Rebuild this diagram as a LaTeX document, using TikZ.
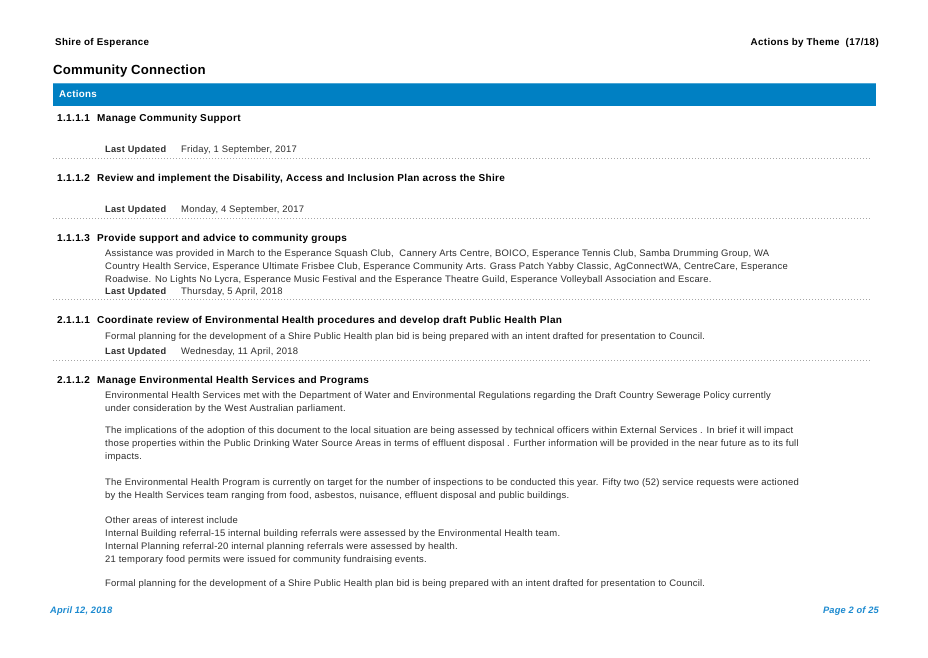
\documentclass[tikz,border=0pt]{standalone}
\usepackage{fontspec}
\setmainfont{Liberation Sans}
\definecolor{barblue}{HTML}{0080C3}
\definecolor{footblue}{HTML}{1C8AD0}
\definecolor{bodygray}{HTML}{2E2E2E}
\begin{document}
\begin{tikzpicture}[x=1pt,y=-1pt,
  hdr/.style={anchor=base west,inner sep=0pt,font=\fontsize{9.8}{11}\selectfont\bfseries\addfontfeature{LetterSpace=3.5},text=black},
  ttl/.style={anchor=base west,inner sep=0pt,font=\fontsize{13.2}{15}\selectfont\bfseries\addfontfeature{LetterSpace=1.5},text=black},
  head/.style={anchor=base west,inner sep=0pt,font=\fontsize{10}{11}\selectfont\bfseries\addfontfeature{LetterSpace=3.5},text=black},
  body/.style={anchor=base west,inner sep=0pt,font=\fontsize{9.45}{11}\selectfont\addfontfeature{LetterSpace=2.5},text=bodygray},
  lu/.style={anchor=base west,inner sep=0pt,font=\fontsize{9.2}{11}\selectfont\bfseries\addfontfeature{LetterSpace=3},text=bodygray},
  foot/.style={inner sep=0pt,font=\fontsize{9.3}{11}\selectfont\bfseries\itshape\addfontfeature{LetterSpace=2},text=footblue},
  sep/.style={draw=gray!70,line width=0.6pt,dash pattern=on 0.7pt off 2.3pt}]
\useasboundingbox[fill=white] (0,0) rectangle (928,657);
% header
\node[hdr] (h1) at (55,45.5) {Shire of Esperance};
\node[hdr,anchor=base east] (h2) at (879,45.5) {Actions by Theme\ \ (17/18)};
\node[ttl] (t1) at (53,74.5) {Community Connection};
% bar
\fill[barblue] (53,83) rectangle (876,106);
\draw[barblue!70!white,line width=0.8pt] (53,83.4) -- (876,83.4);
\node[anchor=base west,inner sep=0pt,font=\fontsize{9.8}{11}\selectfont\bfseries\addfontfeature{LetterSpace=3},text=white] (act) at (59,97.5) {Actions};
% 1.1.1.1
\node[head] (n1) at (57,121.5) {1.1.1.1};
\node[head] (n1t) at (97,121.5) {Manage Community Support};
\node[lu] (l1) at (105,152.5) {Last Updated};
\node[body] (d1) at (181,152.5) {Friday, 1 September, 2017};
\coordinate (s1a) at (53,158); \coordinate (s1b) at (870,158);
\draw[sep] (s1a) -- (s1b);
% 1.1.1.2
\node[head] (n2) at (57,181.5) {1.1.1.2};
\node[head] (n2t) at (97,181.5) {Review and implement the Disability, Access and Inclusion Plan across the Shire};
\node[lu] (l2) at (105,212.5) {Last Updated};
\node[body] (d2) at (181,212.5) {Monday, 4 September, 2017};
\coordinate (s2a) at (53,218); \coordinate (s2b) at (870,218);
\draw[sep] (s2a) -- (s2b);
% 1.1.1.3
\node[head] (n3) at (57,241.5) {1.1.1.3};
\node[head] (n3t) at (97,241.5) {Provide support and advice to community groups};
\node[body] (b31) at (105,256.5) {Assistance was provided in March to the Esperance Squash Club,\ \ Cannery Arts Centre, BOICO, Esperance Tennis Club, Samba Drumming Group, WA};
\node[body] (b32) at (105,269.5) {Country Health Service, Esperance Ultimate Frisbee Club, Esperance Community Arts. Grass Patch Yabby Classic, AgConnectWA, CentreCare, Esperance};
\node[body] (b33) at (105,282.5) {Roadwise. No Lights No Lycra, Esperance Music Festival and the Esperance Theatre Guild, Esperance Volleyball Association and Escare.};
\node[lu] (l3) at (105,294.5) {Last Updated};
\node[body] (d3) at (181,294.5) {Thursday, 5 April, 2018};
\coordinate (s3a) at (53,299); \coordinate (s3b) at (870,299);
\draw[sep] (s3a) -- (s3b);
% 2.1.1.1
\node[head] (n4) at (57,323.5) {2.1.1.1};
\node[head] (n4t) at (97,323.5) {Coordinate review of Environmental Health procedures and develop draft Public Health Plan};
\node[body] (b41) at (105,339.5) {Formal planning for the development of a Shire Public Health plan bid is being prepared with an intent drafted for presentation to Council.};
\node[lu] (l4) at (105,354.5) {Last Updated};
\node[body] (d4) at (181,354.5) {Wednesday, 11 April, 2018};
\coordinate (s4a) at (53,360); \coordinate (s4b) at (870,360);
\draw[sep] (s4a) -- (s4b);
% 2.1.1.2
\node[head] (n5) at (57,383.5) {2.1.1.2};
\node[head] (n5t) at (97,383.5) {Manage Environmental Health Services and Programs};
\node[body] (b51) at (105,398.5) {Environmental Health Services met with the Department of Water and Environmental Regulations regarding the Draft Country Sewerage Policy currently};
\node[body] (b52) at (105,411.5) {under consideration by the West Australian parliament.};
\node[body] (b53) at (105,433.5) {The implications of the adoption of this document to the local situation are being assessed by technical officers within External Services . In brief it will impact};
\node[body] (b54) at (105,446.5) {those properties within the Public Drinking Water Source Areas in terms of effluent disposal . Further information will be provided in the near future as to its full};
\node[body] (b55) at (105,459.5) {impacts.};
\node[body] (b56) at (105,485.5) {The Environmental Health Program is currently on target for the number of inspections to be conducted this year. Fifty two (52) service requests were actioned};
\node[body] (b57) at (105,498.5) {by the Health Services team ranging from food, asbestos, nuisance,\ effluent disposal and public buildings.};
\node[body] (b58) at (105,523.5) {Other areas of interest include};
\node[body] (b59) at (105,536.5) {Internal Building referral-15 internal building referrals were assessed by the Environmental Health team.};
\node[body] (b510) at (105,549.5) {Internal Planning referral-20 internal planning referrals were assessed by health.};
\node[body] (b511) at (105,562.5) {21 temporary food permits were issued for community fundraising events.};
\node[body] (b512) at (105,586.5) {Formal planning for the development of a Shire Public Health plan bid is being prepared with an intent drafted for presentation to Council.};
% footer
\node[foot,anchor=base west] (f1) at (50,613.5) {April 12, 2018};
\node[foot,anchor=base east] (f2) at (879,613.5) {Page 2 of 25};
\end{tikzpicture}
\end{document}
